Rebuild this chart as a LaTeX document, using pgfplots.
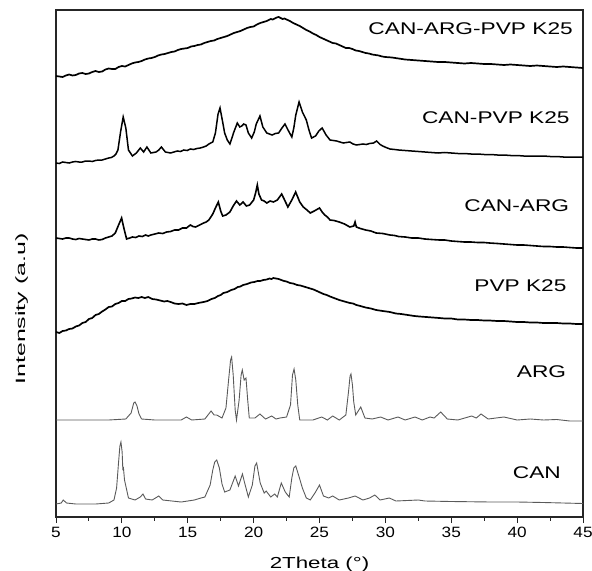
\documentclass[border=0pt]{standalone}
\usepackage{fontspec}
\setmainfont{Liberation Sans}
\usepackage{graphicx}
\usepackage{pgfplots}
\pgfplotsset{compat=1.18}

\definecolor{xrdgray}{HTML}{5A5A5A}

\begin{document}
\begin{tikzpicture}
\begin{axis}[
    scale only axis, width=527bp, height=507bp,
    xmin=5, xmax=45, ymin=10, ymax=517, y dir=reverse,
    clip=false,
    axis line style={line width=1.2bp, black!85},
    xtick={5,10,...,45}, minor x tick num=1,
    ytick=\empty,
    tick align=outside, xtick pos=bottom,
    major tick length=6bp, minor tick length=3.5bp,
    tick style={line width=1bp, black!85},
    /pgf/number format/assume math mode=true,
    xticklabel={\scalebox{1.15}[1]{\pgfmathprintnumber{\tick}}},
    xticklabel style={font=\fontsize{15}{17}\selectfont, yshift=-1bp},
  ]
  % CAN
  \addplot[xrdgray, line width=0.9bp] coordinates {
    (5.0,504) (5.4,503) (5.55,500) (5.8,503) (6.5,504) (8,504) (9.0,503) (9.4,500)
    (9.6,488) (9.75,462) (9.85,446) (9.93,442) (10.02,452) (10.07,469) (10.12,468) (10.2,480)
    (10.5,498) (11.0,500) (11.4,497) (11.6,494) (11.8,499) (12.3,500) (12.8,496)
    (13.1,500) (13.8,501) (14.5,502) (15.5,500) (16.0,498) (16.3,497) (16.7,485)
    (16.9,470) (17.05,462) (17.2,460) (17.4,468) (17.6,484) (17.8,492) (18.2,490) (18.6,476) (18.85,486)
    (19.15,474) (19.3,482) (19.6,497) (19.9,485) (20.1,466) (20.23,463) (20.5,483) (20.8,493)
    (20.95,491) (21.3,497) (21.6,494) (21.8,497) (22.1,483) (22.4,492) (22.7,497)
    (22.9,478) (23.05,468) (23.2,466) (23.5,479) (23.7,488) (24.0,498) (24.3,500) (24.7,492)
    (25.0,485) (25.3,496) (25.7,498) (26.0,496) (26.5,500) (27.2,498) (27.7,496)
    (28.3,500) (28.8,498) (29.2,495) (29.6,500) (30.3,498) (30.8,501) (32.5,500)
    (33,501) (35,501.5) (38,502) (40,502) (42,502.5) (45,503.5)
  };
  % ARG
  \addplot[xrdgray, line width=0.9bp] coordinates {
    (5,420) (7,420) (9,420) (10.3,419) (10.7,413) (10.9,403) (11.0,402) (11.15,406) (11.3,414) (11.5,419)
    (12.5,420) (14.5,420) (14.9,417) (15.3,420) (16.3,419) (16.77,411) (17.0,415)
    (17.2,415) (17.6,418) (17.9,408) (18.1,380) (18.25,360) (18.33,357) (18.45,375) (18.6,410) (18.7,420) (18.9,400)
    (19.05,375) (19.14,370) (19.28,380) (19.42,378) (19.55,400) (19.67,418) (20.1,418) (20.48,414)
    (20.9,419) (21.37,416) (21.7,419) (22.0,418) (22.5,417) (22.8,405) (22.95,375) (23.07,369)
    (23.2,380) (23.35,405) (23.5,420) (24.5,420) (25.17,417) (25.6,420) (26.0,416) (26.5,420)
    (27.0,415) (27.2,392) (27.32,376) (27.39,374) (27.5,385) (27.6,402) (27.75,415) (28.13,407) (28.45,418)
    (29.0,419) (29.64,417) (30.2,420) (30.96,417) (31.5,420) (32.25,417) (32.8,420)
    (33.39,417) (33.7,418) (34.2,412) (34.7,419) (35.5,420) (36.55,416) (36.9,418)
    (37.26,414) (37.8,419) (39,417) (40,420) (41,419) (42,420) (43,419.5) (44,421) (45,421)
  };
  % PVP K25
  \addplot[black, line width=1.7bp] coordinates {
    (5,332) (5.25,333) (5.5,331) (5.75,330.5) (6,329) (6.25,328.5) (6.5,326.5) (6.75,325.5)
    (7,323) (7.25,322) (7.5,319) (7.75,318) (8,315) (8.25,314) (8.5,311.5) (8.75,309.5)
    (9,307) (9.25,306.5) (9.5,304) (9.75,303) (10,301) (10.25,301) (10.5,299) (10.75,298.5)
    (11,297.5) (11.25,298) (11.5,297) (11.75,298) (12,297) (12.3,299) (12.6,299.5)
    (12.9,300.5) (13.2,301.5) (13.45,301) (13.7,302) (14,303.5) (14.3,304) (14.6,303.5)
    (14.9,305) (15.2,304) (15.5,304) (15.8,303) (16.2,302) (16.5,301) (16.8,299)
    (17.05,298) (17.3,296) (17.5,295) (17.7,293) (18,292) (18.3,290) (18.55,289)
    (18.8,287) (19,286.5) (19.2,285) (19.5,284) (19.8,282.5) (20.05,282) (20.3,281)
    (20.5,281) (20.74,280) (21,279.5) (21.2,278.5) (21.35,279) (21.5,278) (21.7,278.5)
    (21.9,279) (22.1,280) (22.3,281) (22.5,281.5) (22.76,283) (23,283.5) (23.3,285)
    (23.55,285.5) (23.8,286.5) (24.05,287.5) (24.3,288.5) (24.55,289.5) (24.8,291)
    (25.05,292.5) (25.3,294) (25.55,295) (25.8,296.5) (26.1,298) (26.5,300) (26.9,301.5)
    (27.3,303) (27.55,303.5) (27.8,305) (28.1,306) (28.5,307.5) (28.9,308.5) (29.3,310)
    (29.8,311) (30.35,312) (30.8,313.5) (31.2,314) (31.7,315) (32.2,316) (32.6,316.5)
    (33.1,317) (33.6,317.5) (34.1,318) (34.5,318.5) (35,318.5) (35.5,319.5) (36,319.5)
    (36.5,320) (37,320) (37.5,320.5) (37.9,320.5) (38.5,321) (39,321) (39.5,321.5)
    (40,322) (40.5,322) (41,322.5) (41.5,322.5) (42,323) (42.5,323) (43,323) (43.5,323.5)
    (44,323.5) (44.5,324) (45,324)
  };
  % CAN-ARG
  \addplot[black, line width=1.6bp] coordinates {
    (5,238) (5.25,238.5) (5.5,239) (5.75,238) (6,238) (6.25,239) (6.5,239.5) (6.75,238.5)
    (7,239) (7.25,239.5) (7.5,240) (7.75,239) (8,239) (8.25,240) (8.5,239.5) (8.75,238)
    (9,237) (9.25,236) (9.5,233) (9.75,225) (9.98,218) (10.15,228) (10.36,239) (10.6,238)
    (10.8,237) (11.05,237.5) (11.3,236) (11.55,236.5) (11.8,235) (12.0,236) (12.2,235)
    (12.5,234) (12.8,233) (13.1,233.5) (13.4,232) (13.7,231.5) (14,230) (14.3,230)
    (14.6,228) (14.9,228) (15.2,225) (15.4,226.5) (15.6,227) (15.9,225) (16.2,223)
    (16.4,222) (16.6,220) (16.9,214) (17.1,208) (17.32,202) (17.5,211) (17.65,216)
    (17.9,215) (18.2,212) (18.45,206) (18.7,201) (18.95,205) (19.2,202) (19.45,206)
    (19.7,205) (20.0,200) (20.15,193) (20.28,185) (20.4,194) (20.6,200) (20.8,201)
    (21.0,203) (21.25,201) (21.5,202) (21.8,200) (22.13,194) (22.35,200) (22.6,207)
    (22.9,200) (23.19,192) (23.5,202) (23.77,207) (24.05,210) (24.3,213) (24.6,211)
    (25.0,208) (25.2,212) (25.4,215) (25.6,217) (25.8,220) (26.1,220.5) (26.5,222)
    (26.9,224) (27.3,227) (27.6,226) (27.7,222) (27.8,227) (28.1,228.5) (28.5,230) (28.9,231)
    (29.3,233) (29.8,233.5) (30.35,235) (30.7,235.5) (31,236.5) (31.5,237) (32,238)
    (32.5,238) (33,239) (33.5,239.5) (34.1,240) (34.5,240) (35,241) (35.5,241.5)
    (36,242) (36.5,242) (37,242.5) (37.5,242.5) (37.9,243) (38.5,243.5) (39,244)
    (39.5,244.5) (40,245) (40.5,245) (41,245.5) (41.5,246) (42,246.5) (42.5,246.5)
    (43,247) (43.5,247) (44,247.5) (44.5,248) (45,248)
  };
  % CAN-PVP K25
  \addplot[black, line width=1.5bp] coordinates {
    (5,163) (5.25,163.5) (5.5,162) (5.75,162.5) (6,163) (6.25,162) (6.5,161.5) (6.75,162)
    (7,162) (7.25,161) (7.5,161) (7.75,161.5) (8,160.5) (8.25,160) (8.5,160) (8.75,159)
    (9,158) (9.2,157.5) (9.4,156) (9.55,154) (9.7,150) (9.9,132) (10.1,117) (10.3,128)
    (10.5,150) (10.8,156) (11.1,153) (11.4,148) (11.65,152) (11.9,147) (12.2,153)
    (12.6,152) (12.8,150) (13.0,147) (13.3,152) (13.7,153) (13.95,152) (14.2,151)
    (14.45,151.5) (14.7,150) (14.95,150.5) (15.2,149) (15.45,149.5) (15.7,148.5)
    (15.95,148) (16.2,147) (16.4,146) (16.6,144) (16.9,142) (17.1,133) (17.3,114) (17.45,108)
    (17.65,122) (17.8,133) (18.0,140) (18.2,144) (18.35,138) (18.5,132) (18.76,123)
    (18.95,127) (19.1,126) (19.25,124) (19.42,125) (19.6,133) (19.85,138) (20.05,132)
    (20.2,124) (20.48,116) (20.7,127) (21.0,133) (21.2,134) (21.4,135) (21.65,133.5)
    (21.9,133) (22.15,128) (22.38,124) (22.65,131) (22.9,137) (23.05,128) (23.2,115)
    (23.45,102) (23.7,112) (24.0,120) (24.2,130) (24.4,138) (24.7,136) (24.95,131)
    (25.2,128) (25.5,135) (25.8,140) (26.05,140.5) (26.3,141) (26.55,142) (26.8,143)
    (27.05,142.5) (27.3,142) (27.55,144) (27.8,145) (28.05,144.5) (28.3,144) (28.55,144.5)
    (28.8,143.5) (29.1,143) (29.34,141) (29.6,144.5) (29.8,146) (30.05,147.5) (30.35,149)
    (30.7,149.5) (31,150) (31.5,150.5) (32,151) (32.5,151.5) (33,152) (33.5,152.5)
    (34,153) (34.5,152.5) (35,153) (35.5,153.5) (36,153.5) (36.5,154) (37,154)
    (37.5,154.5) (38,154.5) (38.5,155) (39,155) (39.5,155.5) (40,155.5) (40.5,156)
    (41,156) (41.5,156) (42,156) (42.5,156.5) (43,156.5) (43.5,157) (44,157) (44.5,157) (45,157)
  };
  % CAN-ARG-PVP K25
  \addplot[black, line width=1.7bp] coordinates {
    (5,76) (5.25,76.5) (5.5,77) (5.75,75.5) (6,74.5) (6.25,75.5) (6.5,75) (6.75,73.5)
    (7,73) (7.25,74) (7.5,73.5) (7.75,72) (8,71) (8.25,72) (8.5,71.5) (8.75,69.5)
    (9,68.5) (9.25,69) (9.5,69) (9.75,67) (10,66) (10.25,66.5) (10.5,65) (10.75,63.5)
    (11,62.5) (11.25,62) (11.5,61) (11.75,59.5) (12,58.5) (12.25,58) (12.5,57) (12.75,55.5)
    (13,54.5) (13.25,54) (13.5,53) (13.75,52) (14,51.5) (14.25,50) (14.5,49) (14.75,48.5)
    (15,48) (15.25,46.5) (15.5,46) (15.75,45) (16,44.5) (16.25,43) (16.5,42) (16.75,41)
    (17,40.5) (17.25,39) (17.5,38) (17.75,37) (18,36) (18.25,34.5) (18.5,33) (18.75,32)
    (19,31) (19.25,29.5) (19.5,28) (19.75,27) (20,26.5) (20.25,24.5) (20.5,23) (20.75,22)
    (21,21) (21.15,20) (21.3,19) (21.45,19.5) (21.6,18.5) (21.75,17.5) (21.9,17)
    (22.05,18) (22.2,19) (22.35,18.5) (22.5,19.5) (22.75,21) (23,23) (23.25,24.5)
    (23.5,26) (23.75,28) (24,30) (24.25,31.5) (24.5,33.5) (24.75,35) (25,37) (25.25,38.5)
    (25.5,40) (25.75,41.5) (26,43) (26.25,43.5) (26.5,45) (26.75,46.5) (27,48) (27.25,48)
    (27.5,49) (27.75,50.5) (28,51) (28.25,52) (28.5,53) (28.75,53.5) (29,54.5) (29.25,55)
    (29.5,55.5) (29.75,56.5) (30,57) (30.5,57.5) (31,58.5) (31.5,59.5) (32,60) (32.5,60.5)
    (33,61) (33.5,61.5) (34,62) (34.5,62) (35,62.5) (35.5,63) (36,63.5) (36.5,63)
    (37,63.5) (37.5,64) (38,64) (38.5,64.5) (39,65) (39.5,64.5) (40,65) (40.5,65.5)
    (41,66) (41.5,65.5) (42,66) (42.5,66.5) (43,67) (43.5,66.5) (44,67) (44.5,67.5) (45,68)
  };
  \coordinate (sw) at (axis cs:5,517);
  \coordinate (ne) at (axis cs:45,10);
  % sample labels
  \begin{scope}[every node/.style={anchor=base east, inner sep=0pt, font=\fontsize{17}{19}\selectfont}]
    \node at (axis cs:44.24,35) {\scalebox{1.34}[1]{CAN-ARG-PVP K25}};
    \node at (axis cs:44.0,123.5) {\scalebox{1.34}[1]{CAN-PVP K25}};
    \node at (axis cs:43.96,211.5) {\scalebox{1.34}[1]{CAN-ARG}};
    \node at (axis cs:43.76,291) {\scalebox{1.34}[1]{PVP K25}};
    \node at (axis cs:43.73,377) {\scalebox{1.34}[1]{ARG}};
    \node at (axis cs:43.33,478) {\scalebox{1.34}[1]{CAN}};
  \end{scope}
  % axis titles
  \node[anchor=base, inner sep=0pt, font=\fontsize{16}{18}\selectfont]
    at (axis cs:25.0,568) {\scalebox{1.4}[1]{2Theta (°)}};
  \node[rotate=90, anchor=base, inner sep=0pt, font=\fontsize{13.5}{15}\selectfont]
    at (axis cs:2.65,309) {\scalebox{1.85}[1]{Intensity (a.u)}};
\end{axis}
\pgfresetboundingbox
\path ([shift={(-56bp,-54bp)}]sw) rectangle ([shift={(9bp,10bp)}]ne);
\end{tikzpicture}
\end{document}
